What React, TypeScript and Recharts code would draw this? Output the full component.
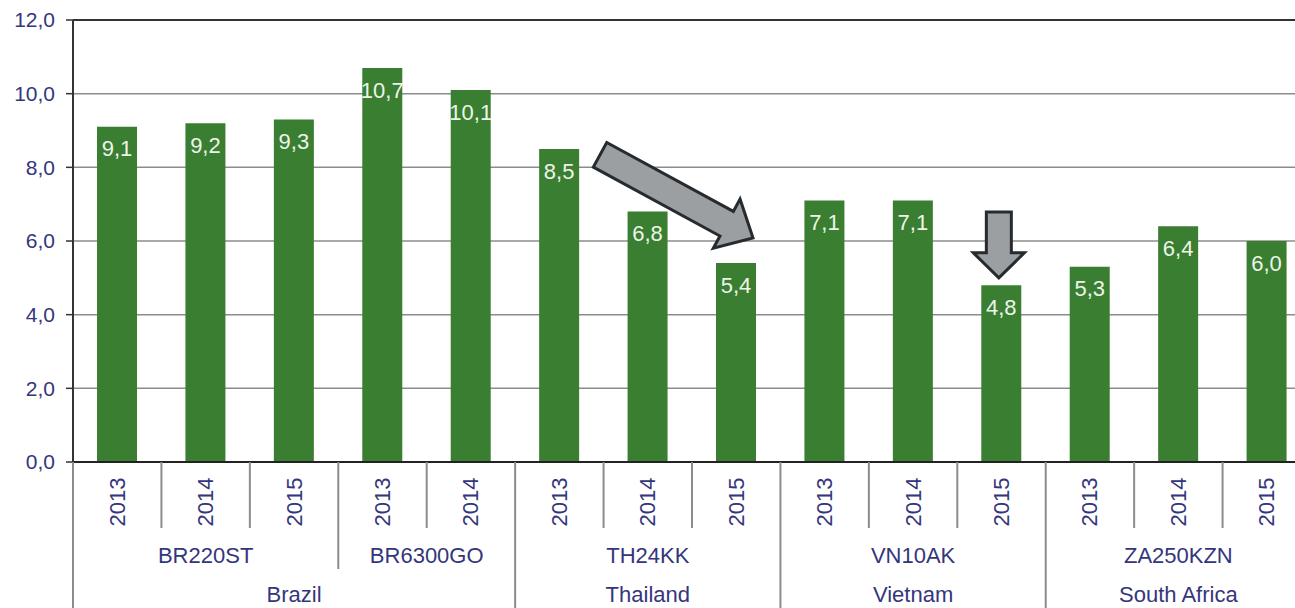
import { BarChart, Bar, XAxis, YAxis, CartesianGrid, LabelList, ReferenceLine } from "recharts";

const years = ["2013", "2014", "2015", "2013", "2014", "2013", "2014", "2015", "2013", "2014", "2015", "2013", "2014", "2015"];
const models = ["BR220ST", "BR220ST", "BR220ST", "BR6300GO", "BR6300GO", "TH24KK", "TH24KK", "TH24KK", "VN10AK", "VN10AK", "VN10AK", "ZA250KZN", "ZA250KZN", "ZA250KZN"];
const countries = ["Brazil", "Brazil", "Brazil", "Brazil", "Brazil", "Thailand", "Thailand", "Thailand", "Vietnam", "Vietnam", "Vietnam", "South Africa", "South Africa", "South Africa"];
const values = [9.1, 9.2, 9.3, 10.7, 10.1, 8.5, 6.8, 5.4, 7.1, 7.1, 4.8, 5.3, 6.4, 6.0];
const yTicks = [0, 2, 4, 6, 8, 10, 12];

// annotation arrows, in (category position, value) units; bar i is centred on i + 0.5
const trendArrow = { from: { x: 5.96, y: 8.34 }, to: { x: 7.69, y: 6.08 } };
const dropArrow = { from: { x: 10.47, y: 6.79 }, to: { x: 10.47, y: 5.0 } };

const data = values.map((v, i) => ({ key: `${models[i]} ${years[i]}`, value: v, pos: i + 0.5 }));

const NAVY = "#34367c";
const SEP = "#8c8c8c";
const FONT = "Liberation Sans, Arial, sans-serif";

const fmt = (v: number) => Number(v).toFixed(1).replace(".", ",");

function groupSpan(arr: string[], i: number) {
  let s = i;
  while (s > 0 && arr[s - 1] === arr[i]) s--;
  let e = i;
  while (e < arr.length - 1 && arr[e + 1] === arr[i]) e++;
  return [s, e];
}

function CategoryTick(props: any) {
  const { x, y, payload } = props;
  const i = payload.index;
  const half = payload.offset || 44.2;
  const left = x - half;
  let sepLen = 66;
  if (i === 0 || countries[i - 1] !== countries[i]) sepLen = 170;
  else if (models[i - 1] !== models[i]) sepLen = 107;
  const [ms, me] = groupSpan(models, i);
  const [cs, ce] = groupSpan(countries, i);
  return (
    <g fontFamily={FONT} fill={NAVY}>
      <line x1={left} y1={y} x2={left} y2={y + sepLen} stroke={SEP} strokeWidth={2} />
      {i === years.length - 1 && (
        <line x1={x + half} y1={y} x2={x + half} y2={y + 170} stroke={SEP} strokeWidth={2} />
      )}
      <text
        x={x}
        y={y + 40}
        fontSize={22}
        textAnchor="middle"
        dominantBaseline="central"
        transform={`rotate(-90 ${x} ${y + 40})`}
      >
        {years[i]}
      </text>
      {i === ms && (
        <text x={x + (me - ms) * half} y={y + 93} fontSize={22} textAnchor="middle" dominantBaseline="central">
          {models[i]}
        </text>
      )}
      {i === cs && (
        <text x={x + (ce - cs) * half} y={y + 132} fontSize={22} textAnchor="middle" dominantBaseline="central">
          {countries[i]}
        </text>
      )}
    </g>
  );
}

const blockArrow = (shaft: number, head: number, headLen: number) => (props: any) => {
  const { x1, y1, x2, y2 } = props;
  const dx = x2 - x1;
  const dy = y2 - y1;
  const len = Math.hypot(dx, dy) || 1;
  const ux = dx / len;
  const uy = dy / len;
  const nx = -uy;
  const ny = ux;
  const bx = x2 - ux * headLen;
  const by = y2 - uy * headLen;
  const pts = [
    [x1 + nx * shaft, y1 + ny * shaft],
    [bx + nx * shaft, by + ny * shaft],
    [bx + nx * head, by + ny * head],
    [x2, y2],
    [bx - nx * head, by - ny * head],
    [bx - nx * shaft, by - ny * shaft],
    [x1 - nx * shaft, y1 - ny * shaft],
  ];
  return (
    <polygon
      points={pts.map((p) => p.join(",")).join(" ")}
      fill="#9b9fa2"
      stroke="#262b2f"
      strokeWidth={3}
      strokeLinejoin="miter"
    />
  );
};

export default function App() {
  return (
    <div style={{ position: "absolute", top: 0, left: 0, width: 1295, height: 608, overflow: "hidden", background: "#fff" }}>
      <BarChart width={1320} height={620} data={data} margin={{ top: 20, right: 9, bottom: 0, left: 0 }}>
        <CartesianGrid vertical={false} stroke={SEP} strokeWidth={1.5} />
        <ReferenceLine y={12} stroke="#333" strokeWidth={2} />
        <XAxis
          dataKey="key"
          interval={0}
          height={158}
          tickLine={false}
          tickSize={0}
          tickMargin={0}
          axisLine={{ stroke: "#222", strokeWidth: 2 }}
          tick={<CategoryTick />}
        />
        <XAxis xAxisId="pos" dataKey="pos" type="number" domain={[0, 14]} allowDataOverflow hide />
        <YAxis
          width={73}
          domain={[0, 12]}
          ticks={yTicks}
          tickFormatter={fmt}
          tickSize={7}
          tickMargin={11}
          axisLine={{ stroke: "#333", strokeWidth: 2 }}
          tickLine={{ stroke: "#333", strokeWidth: 1.5 }}
          tick={{ fill: NAVY, fontSize: 21, fontFamily: FONT }}
        />
        <Bar dataKey="value" fill="#3a7e31" barSize={40} isAnimationActive={false}>
          <LabelList
            dataKey="value"
            position="insideTop"
            offset={14}
            formatter={(v: any) => fmt(v)}
            fill="#eef4ea"
            fontSize={22}
            fontFamily={FONT}
          />
        </Bar>
        <ReferenceLine
          xAxisId="pos"
          ifOverflow="visible"
          segment={[trendArrow.from, trendArrow.to]}
          shape={blockArrow(14, 28, 30)}
        />
        <ReferenceLine
          xAxisId="pos"
          ifOverflow="visible"
          segment={[dropArrow.from, dropArrow.to]}
          shape={blockArrow(12.5, 25.5, 25)}
        />
      </BarChart>
    </div>
  );
}
